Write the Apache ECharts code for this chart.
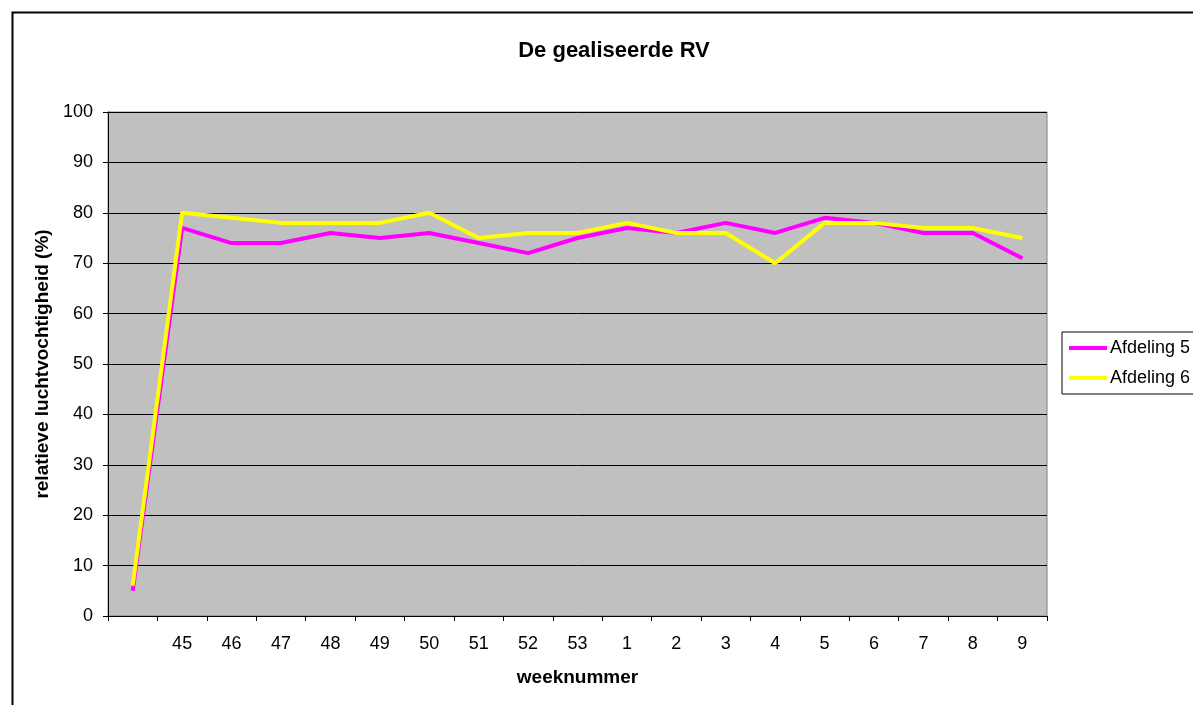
<!DOCTYPE html>
<html>
<head>
<meta charset="utf-8">
<script src="https://cdn.jsdelivr.net/npm/echarts@6/dist/echarts.min.js"></script>
<style>
html,body{margin:0;padding:0;background:#fff;}
#chart{width:1193px;height:705px;}
</style>
</head>
<body>
<div id="chart"></div>
<script>
const categories = ['', '45', '46', '47', '48', '49', '50', '51', '52', '53', '1', '2', '3', '4', '5', '6', '7', '8', '9'];
const afdeling5 = [5, 77, 74, 74, 76, 75, 76, 74, 72, 75, 77, 76, 78, 76, 79, 78, 76, 76, 71];
const afdeling6 = [6, 80, 79, 78, 78, 78, 80, 75, 76, 76, 78, 76, 76, 70, 78, 78, 77, 77, 75];
const yTicks = { min: 0, max: 100, interval: 10 };

const FONT = '"Liberation Sans", Arial, sans-serif';
const chart = echarts.init(document.getElementById('chart'), null, { renderer: 'canvas' });
chart.setOption({
  animation: false,
  backgroundColor: '#ffffff',
  textStyle: { fontFamily: FONT },
  title: {
    text: 'De gealiseerde RV',
    left: 609, top: 35, textAlign: 'center',
    textStyle: { fontFamily: FONT, fontSize: 22, fontWeight: 'bold', color: '#000' }
  },
  graphic: [{
    type: 'rect', left: 10, top: 10, silent: true, z: -1,
    shape: { x: 0, y: 0, width: 1400, height: 900 },
    style: { fill: 'none', stroke: '#000', lineWidth: 2 }
  }],
  legend: {
    orient: 'vertical', left: 1062, top: 332,
    backgroundColor: '#fff', borderColor: '#000', borderWidth: 1,
    padding: [7, 60, 7, 7], itemGap: 12,
    itemWidth: 38, itemHeight: 4, icon: 'rect',
    textStyle: { fontFamily: FONT, fontSize: 18, color: '#000', padding: [0, 0, 0, -2] },
    data: ['Afdeling 5', 'Afdeling 6']
  },
  grid: {
    left: 108, top: 112, right: 146, bottom: 89,
    show: true, backgroundColor: '#c0c0c0', borderColor: '#808080', borderWidth: 1
  },
  xAxis: {
    type: 'category', data: categories, boundaryGap: true,
    name: 'weeknummer', nameLocation: 'middle', nameGap: 52,
    nameTextStyle: { fontFamily: FONT, fontSize: 19, fontWeight: 'bold', color: '#000' },
    axisLine: { lineStyle: { color: '#000', width: 1 } },
    axisTick: { show: true, length: 5, alignWithLabel: false, interval: 0, lineStyle: { color: '#000' } },
    axisLabel: { interval: 0, margin: 19, fontFamily: FONT, fontSize: 18, color: '#000' },
    splitLine: { show: false }
  },
  yAxis: {
    type: 'value', min: yTicks.min, max: yTicks.max, interval: yTicks.interval,
    name: 'relatieve luchtvochtigheid (%)', nameLocation: 'middle', nameGap: 54,
    nameTextStyle: { fontFamily: FONT, fontSize: 19, fontWeight: 'bold', color: '#000' },
    axisLine: { show: true, lineStyle: { color: '#000', width: 1 } },
    axisTick: { show: true, length: 5, lineStyle: { color: '#000' } },
    axisLabel: { margin: 15, fontFamily: FONT, fontSize: 18, color: '#000' },
    splitLine: { show: true, lineStyle: { color: '#000', width: 1 } }
  },
  series: [
    { name: 'Afdeling 5', type: 'line', data: afdeling5, showSymbol: false, symbol: 'none',
      itemStyle: { color: '#ff00ff' }, lineStyle: { color: '#ff00ff', width: 4 } },
    { name: 'Afdeling 6', type: 'line', data: afdeling6, showSymbol: false, symbol: 'none',
      itemStyle: { color: '#ffff00' }, lineStyle: { color: '#ffff00', width: 4 } }
  ]
});
</script>
</body>
</html>
